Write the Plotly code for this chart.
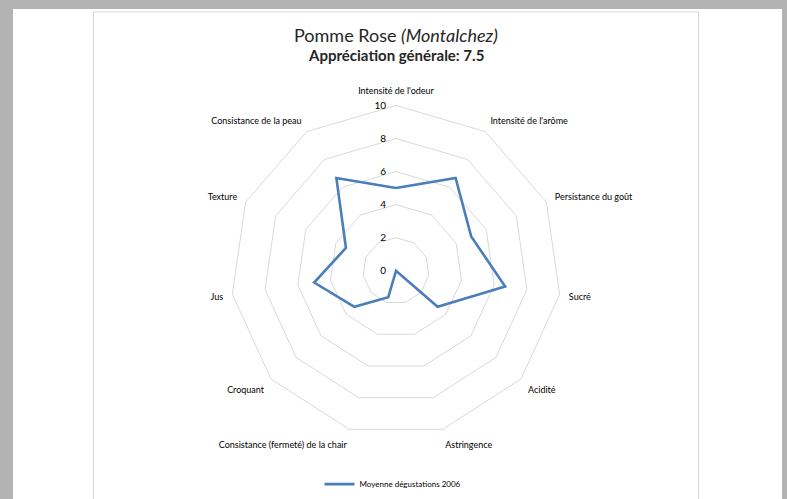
import plotly.graph_objects as go

W, H = 787, 499

categories = [
    "Intensité de l'odeur",
    "Intensité de l'arôme",
    "Persistance du goût",
    "Sucré",
    "Acidité",
    "Astringence",
    "Consistance (fermeté) de la chair",
    "Croquant",
    "Jus",
    "Texture",
    "Consistance de la peau",
]
values_2006 = [5.0, 6.67, 5.0, 6.67, 3.33, 0.0, 1.67, 3.33, 5.0, 3.33, 6.67]
radial_ticks = [0, 2, 4, 6, 8, 10]
series_name = "Moyenne dégustations 2006"
title_main = "Pomme Rose <i>(Montalchez)</i>"
title_sub = "<b>Appréciation générale: 7.5</b>"

FONT = "Lato"
GRID = "#d9d9d9"
TEXT = "#000000"

# centre and radius (pixels) of the radar
cx, cy, R = 396, 273.5, 167

fig = go.Figure()
fig.add_trace(go.Scatterpolar(
    r=values_2006 + values_2006[:1],
    theta=categories + categories[:1],
    mode="lines",
    name=series_name,
    line=dict(color="#4a7ebb", width=2.6),
    hoverinfo="skip",
))

fig.update_layout(
    width=W, height=H,
    margin=dict(l=0, r=0, t=0, b=0),
    paper_bgcolor="#b3b3b3",
    template="none",
    showlegend=True,
    font=dict(family=FONT, color=TEXT),
    polar=dict(
        domain=dict(x=[(cx - R) / W, (cx + R) / W],
                    y=[(H - cy - R) / H, (H - cy + R) / H]),
        bgcolor="rgba(0,0,0,0)",
        gridshape="linear",
        angularaxis=dict(
            direction="clockwise", rotation=90,
            showgrid=False, showline=True, linecolor=GRID, linewidth=1,
            ticks="outside", ticklen=7, tickcolor="rgba(0,0,0,0)",
            tickfont=dict(size=9, family=FONT, color=TEXT),
        ),
        radialaxis=dict(
            range=[0, 10], tickvals=radial_ticks, angle=90, side="counterclockwise",
            showline=False, gridcolor=GRID, gridwidth=1,
            ticks="outside", ticklen=6, tickcolor="rgba(0,0,0,0)",
            tickfont=dict(size=10, family=FONT, color=TEXT),
            tickangle=90,
        ),
    ),
    legend=dict(
        orientation="h", x=393 / W, xanchor="center", y=(H - 489) / H, yanchor="middle",
        font=dict(size=8, family=FONT, color=TEXT), bgcolor="rgba(0,0,0,0)",
        itemwidth=30,
    ),
    shapes=[
        dict(type="rect", xref="paper", yref="paper",
             x0=13 / W, x1=782 / W, y0=-0.05, y1=(H - 9) / H,
             fillcolor="white", line=dict(width=0), layer="below"),
        dict(type="rect", xref="paper", yref="paper",
             x0=93.5 / W, x1=698.5 / W, y0=-0.05, y1=(H - 12) / H,
             fillcolor="rgba(0,0,0,0)", line=dict(color=GRID, width=1), layer="below"),
    ],
    annotations=[
        dict(text=title_main, xref="paper", yref="paper", x=396 / W, y=(H - 35) / H,
             xanchor="center", yanchor="middle", showarrow=False,
             font=dict(size=18, family=FONT, color="#262626")),
        dict(text=title_sub, xref="paper", yref="paper", x=396 / W, y=(H - 56) / H,
             xanchor="center", yanchor="middle", showarrow=False,
             font=dict(size=15, family=FONT, color="#262626")),
    ],
)

fig.write_html(
    "out.html",
    config=dict(displayModeBar=False),
    post_script="document.body.style.margin='0';document.body.style.overflow='hidden';",
)
